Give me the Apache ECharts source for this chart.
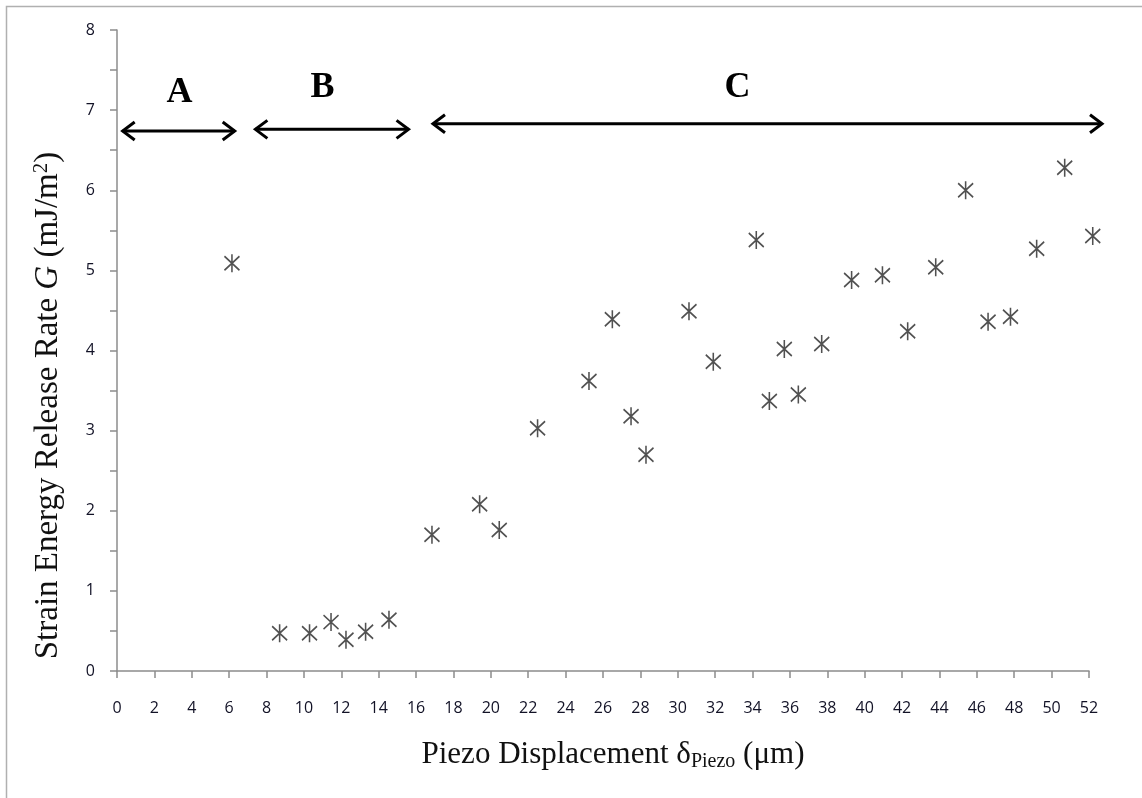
<!DOCTYPE html>
<html>
<head>
<meta charset="utf-8">
<title>Strain Energy Release Rate vs Piezo Displacement</title>
<script src="https://cdn.jsdelivr.net/npm/echarts@6/dist/echarts.min.js"></script>
<style>
  html, body { margin: 0; padding: 0; background: #fff; }
  #chart { width: 1142px; height: 798px; }
</style>
</head>
<body>
<div id="chart"></div>
<script>
// Measured points: piezo displacement (µm) and strain energy release rate G (mJ/m²)
const displacement = [6.15, 8.7, 10.3, 11.45, 12.25, 13.3, 14.55, 16.85, 19.4, 20.45,
  22.5, 25.25, 26.5, 27.5, 28.3, 30.6, 31.9, 34.2, 34.9, 35.7, 36.45, 37.7, 39.3,
  40.95, 42.3, 43.8, 45.4, 46.6, 47.8, 49.2, 50.7, 52.2];
const releaseRate = [5.09, 0.47, 0.47, 0.61, 0.39, 0.49, 0.64, 1.70, 2.08, 1.76,
  3.03, 3.62, 4.39, 3.18, 2.70, 4.49, 3.86, 5.38, 3.37, 4.02, 3.45, 4.08, 4.88,
  4.94, 4.24, 5.04, 6.00, 4.36, 4.42, 5.27, 6.28, 5.43];

// Regime markers drawn above the data: double-headed arrows with letters
const regionNames = ['A', 'B', 'C'];
const regionStart = [0.25, 7.35, 16.85];
const regionEnd = [6.35, 15.65, 52.75];
const regionArrowY = [6.74, 6.76, 6.83];
const regionLabelX = [3.35, 11.0, 33.2];
const regionLabelY = [7.22, 7.28, 7.28];

// Axis ranges and ticks
const xMin = 0, xMax = 52, xStep = 2;
const yMin = 0, yMax = 8, yStep = 1;

const points = displacement.map((x, i) => [x, releaseRate[i]]);
const regions = regionNames.map((n, i) => [regionStart[i], regionEnd[i], regionArrowY[i], regionLabelX[i], regionLabelY[i], i]);

const chart = echarts.init(document.getElementById('chart'), null, { renderer: 'canvas' });

const tickFont = { fontFamily: '"Open Sans", Lato, sans-serif', fontSize: 16, color: '#121226' };
const titleFont = 'Liberation Serif, "Times New Roman", serif';
const axisGrey = '#8c8c8c';

// Six-armed star marker: an X crossed by a vertical stroke
const starPath = 'path://M0,2 L14,16 M14,2 L0,16 M7,0 L7,18';

chart.setOption({
  animation: false,
  backgroundColor: '#fff',
  graphic: [{
    type: 'rect',
    shape: { x: 6.5, y: 6.5, width: 1200, height: 900 },
    style: { fill: 'none', stroke: '#b0b0b0', lineWidth: 1.5 },
    silent: true
  }],
  grid: { left: 117, right: 53, top: 30, bottom: 127, containLabel: false },
  xAxis: {
    type: 'value',
    min: xMin, max: xMax, interval: xStep,
    name: '{n|Piezo Displacement δ}{sub|Piezo}{n| (μm)}',
    nameLocation: 'middle',
    nameGap: 67,
    nameTextStyle: {
      padding: [0, 0, 0, 20],
      rich: {
        n: { fontFamily: titleFont, fontSize: 31, color: '#111' },
        sub: { fontFamily: titleFont, fontSize: 20, color: '#111', verticalAlign: 'bottom', padding: [14, 0, 0, 0] }
      }
    },
    axisLine: { show: true, lineStyle: { color: axisGrey, width: 1.5 } },
    axisTick: { show: true, inside: false, length: 7, lineStyle: { color: axisGrey, width: 1.5 } },
    axisLabel: Object.assign({ margin: 29 }, tickFont),
    splitLine: { show: false }
  },
  yAxis: {
    type: 'value',
    min: yMin, max: yMax, interval: yStep,
    name: '{n|Strain Energy Release Rate }{g|G}{n| (mJ/m}{sup|2}{n|)}',
    nameLocation: 'middle',
    nameRotate: 90,
    nameGap: 52,
    nameTextStyle: {
      padding: [0, 110, 0, 0],
      rich: {
        n: { fontFamily: titleFont, fontSize: 33, color: '#111' },
        g: { fontFamily: titleFont, fontSize: 33, fontStyle: 'italic', color: '#111' },
        sup: { fontFamily: titleFont, fontSize: 21, color: '#111', verticalAlign: 'top', padding: [0, 0, 13, 0] }
      }
    },
    axisLine: { show: true, lineStyle: { color: axisGrey, width: 1.5 } },
    axisTick: { show: true, inside: false, length: 7, lineStyle: { color: axisGrey, width: 1.5 } },
    minorTick: { show: true, splitNumber: 2, length: 7, lineStyle: { color: axisGrey, width: 1.5 } },
    axisLabel: Object.assign({ margin: 22 }, tickFont),
    splitLine: { show: false },
    minorSplitLine: { show: false }
  },
  series: [
    {
      type: 'scatter',
      data: points,
      symbol: starPath,
      symbolSize: [15, 18],
      clip: false,
      itemStyle: { color: 'rgba(0,0,0,0)', borderColor: '#262626', borderWidth: 1.7 },
      emphasis: { disabled: true }
    },
    {
      type: 'custom',
      data: regions,
      clip: false,
      silent: true,
      renderItem: function (params, api) {
        const y = api.value(2);
        const a = api.coord([api.value(0), y]);
        const b = api.coord([api.value(1), y]);
        const lp = api.coord([api.value(3), api.value(4)]);
        const name = regionNames[api.value(5)];
        const hl = 13, hh = 9;
        const stroke = { stroke: '#000', lineWidth: 3, fill: 'none', lineJoin: 'miter', lineCap: 'butt' };
        return {
          type: 'group',
          children: [
            { type: 'line', shape: { x1: a[0] + 1, y1: a[1], x2: b[0] - 1, y2: b[1] }, style: stroke },
            { type: 'polyline', shape: { points: [[a[0] + hl, a[1] - hh], [a[0] + 1, a[1]], [a[0] + hl, a[1] + hh]] }, style: stroke },
            { type: 'polyline', shape: { points: [[b[0] - hl, b[1] - hh], [b[0] - 1, b[1]], [b[0] - hl, b[1] + hh]] }, style: stroke },
            {
              type: 'text',
              x: lp[0], y: lp[1],
              style: {
                text: name,
                fontFamily: titleFont, fontSize: 36, fontWeight: 'bold',
                fill: '#000', align: 'center', verticalAlign: 'middle'
              }
            }
          ]
        };
      }
    }
  ]
});
</script>
</body>
</html>
